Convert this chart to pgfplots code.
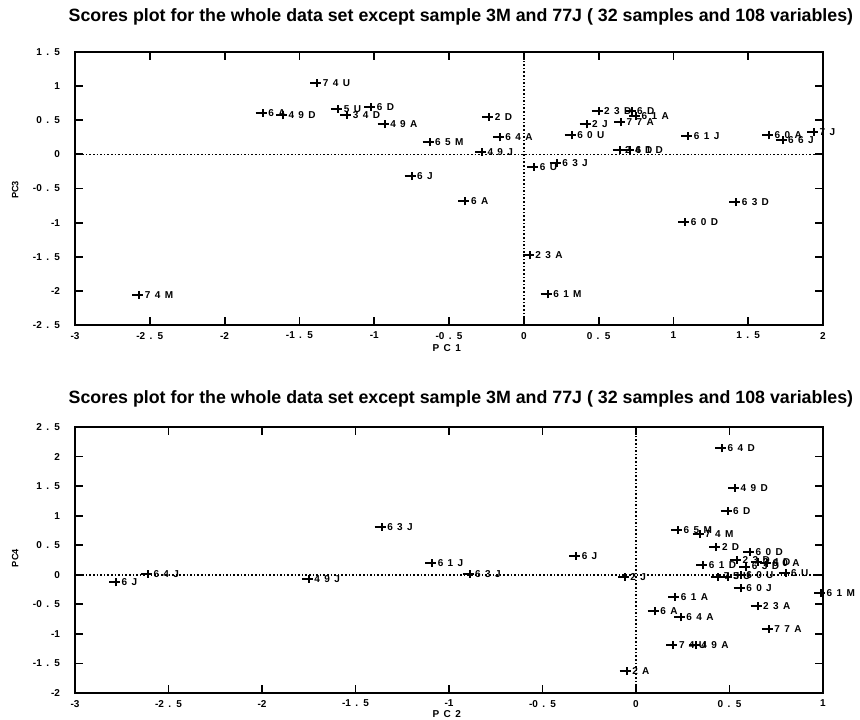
\documentclass[border=0pt]{standalone}
\usepackage{fontspec}
\setmainfont{Liberation Sans}
\usepackage{pgfplots}
\usepackage{pgfplotstable}
\pgfplotsset{compat=1.18}
\pgfdeclareplotmark{lplus}{%
 \pgfpathmoveto{\pgfqpoint{-1.75\pgfplotmarksize}{0pt}}%
 \pgfpathlineto{\pgfqpoint{\pgfplotmarksize}{0pt}}%
 \pgfpathmoveto{\pgfqpoint{0pt}{-\pgfplotmarksize}}%
 \pgfpathlineto{\pgfqpoint{0pt}{\pgfplotmarksize}}%
 \pgfusepathqstroke}
\newcommand\lblfont{\fontsize{5}{6}\selectfont\bfseries\spaceskip=2.2pt\relax}
\newcommand\ttlfont{\fontsize{8.9}{10}\selectfont\bfseries}
\pgfplotsset{
 myaxis/.style={scale only axis, width=374pt, xmin=-3,
  axis line style={line width=1.3pt}, tick style={line width=0.9pt, black},
  major tick length=4pt, ticklabel style={font=\lblfont},
  yticklabel style={xshift=-4pt}, xticklabel style={yshift=0pt},
  clip=false, title style={font=\ttlfont, anchor=center},
  xlabel style={font=\lblfont, anchor=center},
  ylabel style={font=\fontsize{4.6}{5}\selectfont\bfseries, anchor=center}},
 pts/.style={only marks, mark=lplus, mark size=2pt, line width=1pt, black,
  point meta=explicit symbolic, nodes near coords={\pgfplotspointmeta},
  nodes near coords style={anchor=west, inner sep=0pt, xshift=2.3pt, font=\lblfont}},
 zl/.style={densely dotted, line width=0.8pt, black, mark=none}
}
\pgfplotstableread[col sep=comma, row sep=\\]{
x,y,lab\\
-1.38,1.05,7 4 U\\
-1.745,0.61,6 A\\
-1.61,0.57,4 9 D\\
-1.24,0.67,5 U\\
-1.02,0.70,6 D\\
-1.18,0.58,3 4 D\\
-0.93,0.44,4 9 A\\
-0.63,0.18,6 5 M\\
-0.75,-0.32,6 J\\
-0.23,0.55,2 D\\
-0.16,0.25,6 4 A\\
-0.28,0.04,4 9 J\\
-0.39,-0.69,6 A\\
-2.57,-2.06,7 4 M\\
0.04,-1.48,2 3 A\\
0.16,-2.05,6 1 M\\
0.50,0.63,2 3 D\\
0.72,0.64,6 D\\
0.75,0.56,6 1 A\\
0.42,0.44,2 J\\
0.65,0.47,7 7 A\\
0.32,0.28,6 0 U\\
1.10,0.27,6 1 J\\
0.64,0.07,2 4 D\\
0.71,0.07,6 1 D\\
0.07,-0.18,6 U\\
0.22,-0.13,6 3 J\\
1.64,0.28,6 0 A\\
1.73,0.21,6 6 J\\
1.94,0.33,7 J\\
1.42,-0.70,6 3 D\\
1.08,-0.99,6 0 D\\
}\topdata
\pgfplotstableread[col sep=comma, row sep=\\]{
x,y,lab\\
-2.78,-0.13,6 J\\
-2.61,0.02,6 4 J\\
-1.75,-0.07,4 9 J\\
-1.36,0.81,6 3 J\\
-1.09,0.20,6 1 J\\
-0.89,0.02,6 3 J\\
-0.32,0.32,6 J\\
-0.06,-0.03,2 J\\
-0.05,-1.63,2 A\\
0.46,2.14,6 4 D\\
0.53,1.47,4 9 D\\
0.49,1.08,6 D\\
0.225,0.76,6 5 M\\
0.34,0.69,7 4 M\\
0.43,0.47,2 D\\
0.61,0.39,6 0 D\\
0.36,0.17,6 1 D\\
0.54,0.25,2 3 D\\
0.59,0.14,6 3 D\\
0.65,0.22,3 4 D\\
0.70,0.20,6 0 A\\
0.44,-0.03,7 J\\
0.49,-0.03,5 U\\
0.56,0.00,6 0 U\\
0.80,0.03,6 U\\
0.56,-0.23,6 0 J\\
0.99,-0.31,6 1 M\\
0.21,-0.37,6 1 A\\
0.65,-0.53,2 3 A\\
0.10,-0.62,6 A\\
0.24,-0.72,6 4 A\\
0.71,-0.91,7 7 A\\
0.20,-1.19,7 4 U\\
0.32,-1.19,4 9 A\\
}\botdata
\begin{document}
\begin{tikzpicture}
\useasboundingbox (0,0) rectangle (430pt,359.5pt);
\begin{axis}[myaxis, at={(37.5pt,197pt)}, anchor=south west, height=136.5pt,
  xmax=2, ymin=-2.5, ymax=1.5,
  xtick={-3,-2.5,...,2}, ytick={-2.5,-2,...,1.5},
  xticklabels={{-3},{-2 . 5},{-2},{-1 . 5},{-1},{-0 . 5},{0},{0 . 5},{1},{1 . 5},{2}},
  yticklabels={{-2 . 5},{-2},{-1 . 5},{-1},{-0 . 5},{0},{0 . 5},{1},{1 . 5}},
  title={Scores plot for the whole data set except sample 3M and 77J ( 32 samples and 108 variables)},
  title style={at={(axis description cs:0.516,1.084)}},
  xlabel={P C 1}, xlabel style={at={(axis description cs:0.497,-0.085)}},
  ylabel={PC3}, ylabel style={at={(axis description cs:-0.08,0.495)}}]
\addplot[zl] coordinates {(-3,0) (2,0)};
\addplot[zl] coordinates {(0,-2.5) (0,1.5)};
\addplot[pts] table[x=x, y=y, meta=lab] {\topdata};
\end{axis}
\begin{axis}[myaxis, at={(37.5pt,13pt)}, anchor=south west, height=133pt,
  xmax=1, ymin=-2, ymax=2.5,
  xtick={-3,-2.5,...,1}, ytick={-2,-1.5,...,2.5},
  xticklabels={{-3},{-2 . 5},{-2},{-1 . 5},{-1},{-0 . 5},{0},{0 . 5},{1}},
  yticklabels={{-2},{-1 . 5},{-1},{-0 . 5},{0},{0 . 5},{1},{1 . 5},{2},{2 . 5}},
  title={Scores plot for the whole data set except sample 3M and 77J ( 32 samples and 108 variables)},
  title style={at={(axis description cs:0.516,1.061)}},
  xlabel={P C 2}, xlabel style={at={(axis description cs:0.497,-0.08)}},
  ylabel={PC4}, ylabel style={at={(axis description cs:-0.08,0.507)}}]
\addplot[zl] coordinates {(-3,0) (1,0)};
\addplot[zl] coordinates {(0,-2) (0,2.5)};
\addplot[pts] table[x=x, y=y, meta=lab] {\botdata};
\end{axis}
\end{tikzpicture}
\end{document}
